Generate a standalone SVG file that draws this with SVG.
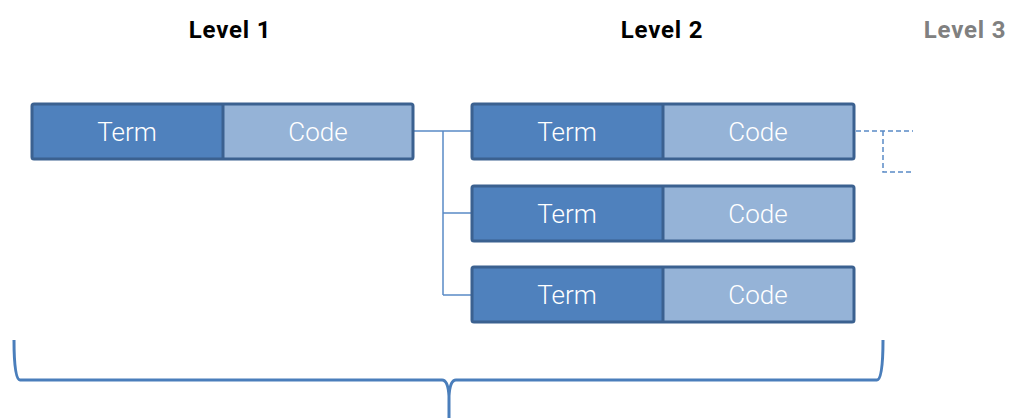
<svg xmlns="http://www.w3.org/2000/svg" width="1009" height="418" viewBox="0 0 1009 418">
<style>
.hdr{font-family:Roboto,"Liberation Sans",sans-serif;font-weight:bold;font-size:24px;letter-spacing:0.8px;text-anchor:middle}
.lbl{font-family:Roboto,"Liberation Sans",sans-serif;font-weight:300;font-size:26px;fill:#fff;text-anchor:middle}
.term{fill:#4F81BD}
.code{fill:#95B3D7}
.frame{fill:none;stroke:#3B6190;stroke-width:3}
.conn{fill:none;stroke:#5A8AC6;stroke-width:1.5}
.dash{fill:none;stroke:#5A8AC6;stroke-width:1.5;stroke-dasharray:5,3}
</style>
<rect width="1009" height="418" fill="#fff"/>
<text class="hdr" x="230" y="38" fill="#000">Level 1</text>
<text class="hdr" x="662" y="38" fill="#000">Level 2</text>
<text class="hdr" x="965" y="38" fill="#808080">Level 3</text>
<g id="connectors">
<path class="conn" d="M414 131 H471 M443 131 V295 M443 213 H471 M443 295 H471"/>
<path class="dash" d="M856 131 H913 M883 131 V172 H913"/>
</g>
<g id="node-l1">
<rect class="term" x="32" y="104" width="191" height="55"/>
<rect class="code" x="223" y="104" width="190" height="55"/>
<rect class="frame" x="32" y="104" width="381" height="55" rx="2"/>
<line x1="223" y1="104" x2="223" y2="159" stroke="#3B6190" stroke-width="3"/>
<text class="lbl" x="127" y="141">Term</text>
<text class="lbl" x="318" y="141">Code</text>
</g>
<g id="node-l2a">
<rect class="term" x="472" y="104" width="191" height="55"/>
<rect class="code" x="663" y="104" width="191" height="55"/>
<rect class="frame" x="472" y="104" width="382" height="55" rx="2"/>
<line x1="663" y1="104" x2="663" y2="159" stroke="#3B6190" stroke-width="3"/>
<text class="lbl" x="567" y="141">Term</text>
<text class="lbl" x="758" y="141">Code</text>
</g>
<g id="node-l2b">
<rect class="term" x="472" y="186" width="191" height="55"/>
<rect class="code" x="663" y="186" width="191" height="55"/>
<rect class="frame" x="472" y="186" width="382" height="55" rx="2"/>
<line x1="663" y1="186" x2="663" y2="241" stroke="#3B6190" stroke-width="3"/>
<text class="lbl" x="567" y="223">Term</text>
<text class="lbl" x="758" y="223">Code</text>
</g>
<g id="node-l2c">
<rect class="term" x="472" y="267" width="191" height="55"/>
<rect class="code" x="663" y="267" width="191" height="55"/>
<rect class="frame" x="472" y="267" width="382" height="55" rx="2"/>
<line x1="663" y1="267" x2="663" y2="322" stroke="#3B6190" stroke-width="3"/>
<text class="lbl" x="567" y="304">Term</text>
<text class="lbl" x="758" y="304">Code</text>
</g>
<g id="brace">
<path d="M14 340 Q14 380 20 380 H442 Q448 380 449 396 V418 M449 396 Q450 380 456 380 H877 Q883 380 883 340" fill="none" stroke="#4A7EBB" stroke-width="3"/>
</g>
</svg>
